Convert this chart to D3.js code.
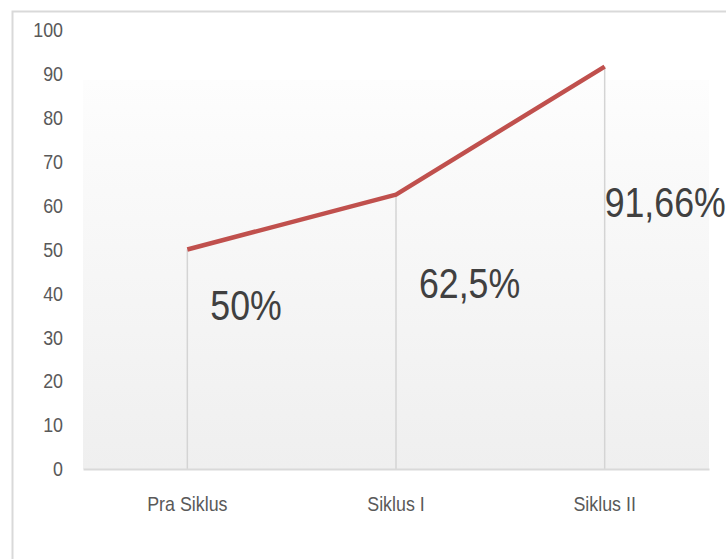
<!DOCTYPE html>
<html>
<head>
<meta charset="utf-8">
<script src="https://cdn.jsdelivr.net/npm/d3@7"></script>
<style>
  body { margin: 0; background: #fff; }
  svg { display: block; }
</style>
</head>
<body>
<svg id="chart" width="726" height="559"></svg>
<script>
const categories = ["Pra Siklus", "Siklus I", "Siklus II"];
const values = [50, 62.5, 91.66];
const valueLabels = ["50%", "62,5%", "91,66%"];
const yTicks = [0, 10, 20, 30, 40, 50, 60, 70, 80, 90, 100];

// hand-placed label offsets (px) like in the source sheet
const labelDx = [23, 23, 0];
const labelDy = [70, 103, 150];

const svg = d3.select("#chart");
const font = "'Liberation Sans', Arial, sans-serif";
const squeeze = 0.85; // narrow the glyphs, source font is condensed

// chart border
svg.append("rect")
    .attr("x", 12.5).attr("y", 11.5)
    .attr("width", 730).attr("height", 560)
    .attr("fill", "#fff")
    .attr("stroke", "#d9d9d9")
    .attr("stroke-width", 2);

const plot = { left: 83, right: 709, top: 30, bottom: 469 };

const x = d3.scaleBand()
    .domain(categories)
    .range([plot.left, plot.right]);

const y = d3.scaleLinear()
    .domain([0, 100])
    .range([plot.bottom, plot.top]);

// plot area gradient
const grad = svg.append("defs").append("linearGradient")
    .attr("id", "bg").attr("x1", 0).attr("y1", 0).attr("x2", 0).attr("y2", 1);
grad.append("stop").attr("offset", "0%").attr("stop-color", "#fdfdfd");
grad.append("stop").attr("offset", "100%").attr("stop-color", "#efefef");

svg.append("rect")
    .attr("x", plot.left).attr("y", 80)
    .attr("width", plot.right - plot.left).attr("height", plot.bottom - 80)
    .attr("fill", "url(#bg)");

// y axis labels (no line)
const yAxis = svg.append("g")
    .attr("transform", `translate(${plot.left - 20},0)`)
    .call(d3.axisLeft(y).tickValues(yTicks).tickSize(0).tickPadding(0));
yAxis.select(".domain").remove();
yAxis.selectAll("text")
    .attr("fill", "#595959")
    .attr("transform", `scale(${squeeze},1)`)
    .style("font-family", font)
    .style("font-size", "21px");

// drop lines
svg.append("g")
    .selectAll("line")
    .data(values)
    .join("line")
    .attr("x1", (d, i) => x(categories[i]) + x.bandwidth() / 2)
    .attr("x2", (d, i) => x(categories[i]) + x.bandwidth() / 2)
    .attr("y1", d => y(d))
    .attr("y2", y(0))
    .attr("stroke", "#d4d4d4")
    .attr("stroke-width", 1.5);

// x axis
const xAxis = svg.append("g")
    .attr("transform", `translate(0,${plot.bottom})`)
    .call(d3.axisBottom(x).tickSize(0).tickPadding(27));
xAxis.select(".domain")
    .attr("stroke", "#d9d9d9")
    .attr("stroke-width", 2);
xAxis.selectAll("text")
    .attr("fill", "#595959")
    .attr("transform", `scale(${squeeze},1)`)
    .style("font-family", font)
    .style("font-size", "21px");

// line
const line = d3.line()
    .x((d, i) => x(categories[i]) + x.bandwidth() / 2)
    .y(d => y(d));

svg.append("path")
    .datum(values)
    .attr("d", line)
    .attr("fill", "none")
    .attr("stroke", "#c0504d")
    .attr("stroke-width", 4.5)
    .attr("stroke-linejoin", "round");

// value labels
svg.append("g")
    .selectAll("text")
    .data(values)
    .join("text")
    .attr("transform", (d, i) =>
        `translate(${x(categories[i]) + x.bandwidth() / 2 + labelDx[i]},${y(d) + labelDy[i]}) scale(${squeeze},1)`)
    .attr("fill", "#404040")
    .style("font-family", font)
    .style("font-size", "42px")
    .text((d, i) => valueLabels[i]);
</script>
</body>
</html>
